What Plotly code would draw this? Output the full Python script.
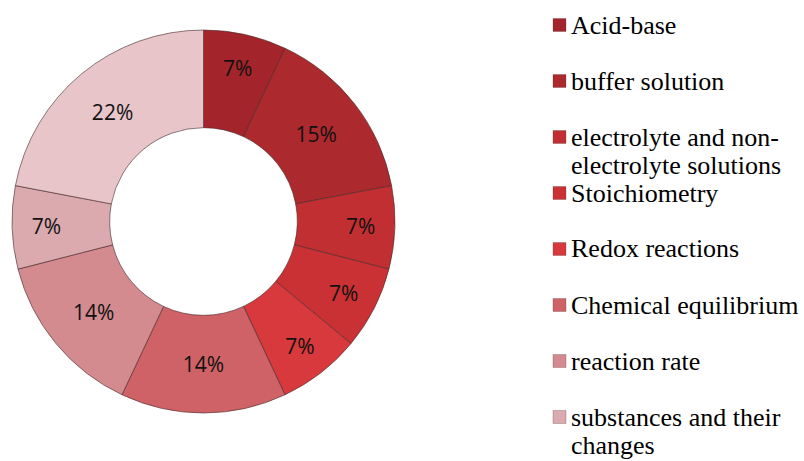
import plotly.graph_objects as go

# ---- data ----
categories = [
    "Acid-base",
    "buffer solution",
    "electrolyte and non-electrolyte solutions",
    "Stoichiometry",
    "Redox reactions",
    "Chemical equilibrium",
    "reaction rate",
    "substances and their changes",
    "Others",
]
shares = [7, 15, 7, 7, 7, 14, 14, 7, 22]
legend_lines = [
    ["Acid-base"],
    ["buffer solution"],
    ["electrolyte and non-", "electrolyte solutions"],
    ["Stoichiometry"],
    ["Redox reactions"],
    ["Chemical equilibrium"],
    ["reaction rate"],
    ["substances and their", "changes"],
]
colors = ["#A3252B", "#AC292D", "#C22F33", "#C93134", "#D8393C",
          "#CF6266", "#D48B8F", "#DAAAAE", "#E7C5C9"]

W, H = 804, 461

fig = go.Figure()
fig.add_trace(go.Pie(
    labels=categories,
    values=shares,
    sort=False,
    direction="clockwise",
    rotation=0,
    hole=0.49,
    marker=dict(colors=colors, line=dict(color="rgba(70,40,40,0.6)", width=1)),
    texttemplate="%{value}%",
    textposition="inside",
    insidetextorientation="horizontal",
    textfont=dict(family="Open Sans, Liberation Sans, sans-serif", size=21, color="#111111"),
    domain=dict(x=[12 / W, 395 / W], y=[(H - 413) / H, (H - 30) / H]),
    showlegend=False,
))

# ---- custom legend (Excel-like layout) ----
shapes = []
annotations = []
slot0, slot_step, line_step = 25, 56, 28
sq = 13
for i, lines in enumerate(legend_lines):
    yc = slot0 + i * slot_step
    shapes.append(dict(
        type="rect", xref="paper", yref="paper",
        x0=553 / W, x1=(553 + sq) / W,
        y0=1 - (yc + sq / 2) / H, y1=1 - (yc - sq / 2) / H,
        fillcolor=colors[i], line=dict(color="rgba(90,60,60,0.6)", width=0.5),
    ))
    for j, txt in enumerate(lines):
        annotations.append(dict(
            x=569 / W, y=1 - (yc + j * line_step) / H, xref="paper", yref="paper",
            xanchor="left", yanchor="middle", showarrow=False, text=txt,
            font=dict(family="Liberation Serif, Times New Roman, serif", size=26, color="#000000"),
        ))

fig.update_layout(
    width=W, height=H,
    margin=dict(l=0, r=0, t=0, b=0),
    paper_bgcolor="white", plot_bgcolor="white",
    shapes=shapes, annotations=annotations,
    showlegend=False,
)

fig.write_html("out.html", config={"displayModeBar": False},
               post_script="document.body.style.margin='0';")
